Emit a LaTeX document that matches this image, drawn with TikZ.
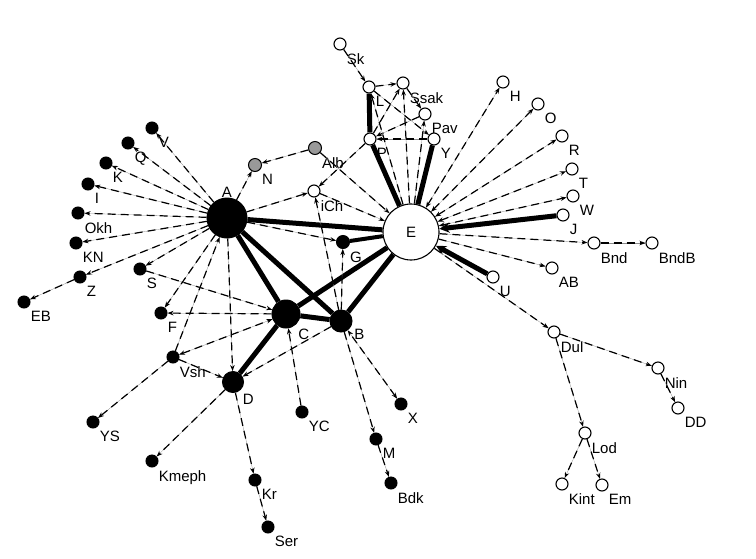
\documentclass[tikz,border=0pt]{standalone}
\usepackage{fontspec}
\setmainfont{Liberation Sans}
\usepackage{tikz}
\usetikzlibrary{arrows.meta}

\begin{document}
\begin{tikzpicture}[
    x=1pt, y=-1pt,
    actor/.style={circle, draw=black, fill=black, line width=1pt, minimum size=12pt, inner sep=0pt},
    hollow/.style={circle, draw=black, fill=white, line width=1.1pt, minimum size=12pt, inner sep=0pt},
    shaded/.style={circle, draw=black, fill=black!40, line width=1pt, minimum size=13pt, inner sep=0pt},
    lbl/.style={font=\fontsize{15}{17}\selectfont, inner sep=2pt},
    every label/.style={lbl, yshift=-2.5pt},
    label distance=0pt,
    tie/.style={line width=5pt},
    arc/.style={->, line width=1.2pt, dash pattern=on 8pt off 5pt,
                preaction={draw, solid, -, line width=0.3pt, black!45}},
    bigtip/.style={-{Stealth[length=10pt,width=10pt]}},
    >={Stealth[length=6pt,width=4.5pt]},
]
\useasboundingbox (0,0) rectangle (756,558);

% main actors
\node[actor, minimum size=40pt, label={[yshift=0pt]above:A}] (A) at (227,218) {};
\node[hollow, minimum size=56pt, font=\fontsize{15}{17}\selectfont] (E) at (411,232) {E};
\node[actor, minimum size=28pt, label=below right:C] (C) at (286,314) {};
\node[actor, minimum size=22pt, label=-15:B] (B) at (341,321) {};
\node[actor, minimum size=21pt, label=below right:D] (D) at (233,382) {};
\node[actor, minimum size=13pt, label=below right:G] (G) at (343,242) {};

% left group
\node[actor, label=below right:V] (V) at (152,128) {};
\node[actor, label=below right:Q] (Q) at (128,143) {};
\node[actor, label=below right:K] (K) at (106,163) {};
\node[actor, label=below right:I] (I) at (88,184) {};
\node[actor, label=below right:Okh] (Okh) at (78,213) {};
\node[actor, label=below right:KN] (KN) at (76,243) {};
\node[actor, label=below right:Z] (Z) at (80,277) {};
\node[actor, label=below right:EB] (EB) at (24,302) {};
\node[actor, label=below right:S] (S) at (140,269) {};
\node[actor, label=below right:F] (F) at (161,313) {};
\node[actor, label=below right:Vsh] (Vsh) at (173,357) {};
\node[actor, label=below right:YS] (YS) at (93,422) {};
\node[actor, label=below right:Kmeph] (Kmeph) at (152,461) {};
\node[actor, label=below right:Kr] (Kr) at (255,480) {};
\node[actor, label=below right:Ser] (Ser) at (268,527) {};
\node[actor, label=below right:YC] (YC) at (302,412) {};
\node[actor, label=below right:X] (X) at (401,404) {};
\node[actor, label=below right:M] (M) at (376,439) {};
\node[actor, label=below right:Bdk] (Bdk) at (391,483) {};

% middle and top group
\node[shaded, label=below right:N] (N) at (255,165) {};
\node[shaded, label=below right:Alb] (Alb) at (315,148) {};
\node[hollow, label=below right:iCh] (iCh) at (314,191) {};
\node[hollow, label=below right:Sk] (Sk) at (340,44) {};
\node[hollow, label=below right:L] (L) at (369,87) {};
\node[hollow, label=below right:Ssak] (Ssak) at (403,83) {};
\node[hollow, label=below right:Pav] (Pav) at (425,114) {};
\node[hollow, label=below right:P] (P) at (370,139) {};
\node[hollow, label=below right:Y] (Y) at (434,139) {};

% right group
\node[hollow, label=below right:H] (H) at (503,82) {};
\node[hollow, label=below right:O] (O) at (538,104) {};
\node[hollow, label=below right:R] (R) at (562,136) {};
\node[hollow, label=below right:T] (T) at (572,169) {};
\node[hollow, label=below right:W] (W) at (573,196) {};
\node[hollow, label=below right:J] (J) at (563,215) {};
\node[hollow, label=below right:Bnd] (Bnd) at (594,243) {};
\node[hollow, label=below right:BndB] (BndB) at (652,243) {};
\node[hollow, label=below right:AB] (AB) at (552,268) {};
\node[hollow, label=below right:U] (U) at (493,277) {};
\node[hollow, label=below right:Dul] (Dul) at (554,332) {};
\node[hollow, label=below right:Nin] (Nin) at (658,368) {};
\node[hollow, label=below right:DD] (DD) at (678,408) {};
\node[hollow, label=below right:Lod] (Lod) at (585,433) {};
\node[hollow, label=below right:Kint] (Kint) at (562,484) {};
\node[hollow, label=below right:Em] (Em) at (602,485) {};

% strong ties
\draw[tie] (A) -- (E);
\draw[tie] (A) -- (C);
\draw[tie] (A) -- (B);
\draw[tie] (C) -- (B);
\draw[tie] (C) -- (E);
\draw[tie] (B) -- (E);
\draw[tie] (C) -- (D);
\draw[tie, line width=4pt] (G) -- (E);
\draw[tie] (L) -- (P);
\draw[tie] (P) -- (E);
\draw[tie] (Y) -- (E);
\draw[tie, bigtip] (J) -- (E);
\draw[tie, bigtip] (U) -- (E);

% directed links around A
\draw[arc] (A) -- (V);
\draw[arc] (A) -- (Q);
\draw[arc] (A) -- (K);
\draw[arc] (A) -- (I);
\draw[arc] (A) -- (Okh);
\draw[arc] (A) -- (KN);
\draw[arc] (A) -- (Z);
\draw[arc] (Z) -- (EB);
\draw[arc] (A) -- (S);
\draw[arc] (S) -- (C);
\draw[arc] (A) -- (F);
\draw[arc] (C) -- (F);
\draw[arc] (A) -- (D);
\draw[arc] (Vsh) -- (A);
\draw[arc, <->] (Vsh) -- (C);
\draw[arc] (Vsh) -- (D);
\draw[arc] (Vsh) -- (YS);
\draw[arc] (B) -- (D);
\draw[arc] (D) -- (Kmeph);
\draw[arc] (D) -- (Kr);
\draw[arc] (Kr) -- (Ser);
\draw[arc] (YC) -- (C);
\draw[arc, <->] (X) -- (B);
\draw[arc] (B) -- (M);
\draw[arc] (M) -- (Bdk);
\draw[arc] (B) -- (G);
\draw[arc] (A) -- (G);
\draw[arc] (B) -- (iCh);
\draw[arc] (A) -- (iCh);
\draw[arc] (iCh) -- (E);
\draw[arc] (P) -- (iCh);
\draw[arc] (A) -- (N);
\draw[arc] (Alb) -- (N);
\draw[arc] (Alb) -- (E);

% directed links around P
\draw[arc] (Sk) -- (L);
\draw[arc] (L) -- (Ssak);
\draw[arc] (P) -- (Ssak);
\draw[arc] (E) -- (Ssak);
\draw[arc] (Ssak) -- (Pav);
\draw[arc] (E) -- (Pav);
\draw[arc] (L) -- (Y);
\draw[arc] (Pav) -- (P);
\draw[arc] (Y) -- (P);
\draw[arc] (E) -- (L);

% directed links around E
\draw[arc, <->] (E) -- (H);
\draw[arc, <->] (E) -- (O);
\draw[arc, <->] (E) -- (R);
\draw[arc, <->] (E) -- (T);
\draw[arc, <->] (E) -- (W);
\draw[arc] (E) -- (Bnd);
\draw[arc] (Bnd) -- (BndB);
\draw[arc] (E) -- (AB);
\draw[arc] (E) -- (Dul);
\draw[arc] (Dul) -- (Nin);
\draw[arc] (Nin) -- (DD);
\draw[arc] (Dul) -- (Lod);
\draw[arc] (Lod) -- (Kint);
\draw[arc] (Lod) -- (Em);
\end{tikzpicture}
\end{document}
